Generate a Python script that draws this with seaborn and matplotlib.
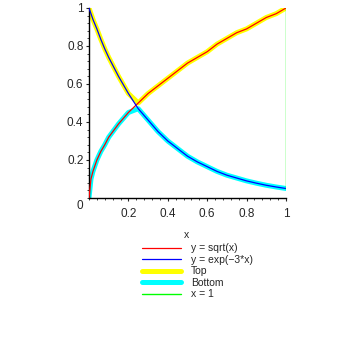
import numpy as np
import pandas as pd
import matplotlib
matplotlib.use("Agg")
import matplotlib.pyplot as plt
from matplotlib.ticker import MultipleLocator
import seaborn as sns

# values
x_vals = [0.0, 0.01, 0.02, 0.04, 0.06, 0.08, 0.10, 0.15, 0.20, 0.25, 0.30, 0.35,
          0.40, 0.45, 0.50, 0.55, 0.60, 0.65, 0.70, 0.75, 0.80, 0.85, 0.90, 0.95, 1.00]
sqrt_vals = [0.0, 0.10, 0.14, 0.20, 0.245, 0.28, 0.32, 0.39, 0.45, 0.50, 0.55, 0.59,
             0.63, 0.67, 0.71, 0.74, 0.77, 0.81, 0.84, 0.87, 0.89, 0.92, 0.95, 0.97, 1.00]
exp_vals = [1.0, 0.97, 0.94, 0.89, 0.835, 0.785, 0.74, 0.64, 0.55, 0.47, 0.41, 0.35,
            0.30, 0.26, 0.22, 0.19, 0.165, 0.14, 0.12, 0.105, 0.09, 0.078, 0.067, 0.058, 0.05]
tick_vals = [0.2, 0.4, 0.6, 0.8, 1.0]
tick_labels = ["0.2", "0.4", "0.6", "0.8", "1"]

sns.set_style("ticks")
plt.rcParams["font.family"] = ["Liberation Sans", "DejaVu Sans"]
plt.rcParams["font.size"] = 7.5

df = pd.DataFrame({"x": x_vals, "sqrt": sqrt_vals, "exp": exp_vals})
df["top"] = np.maximum(df["sqrt"], df["exp"])
df["bottom"] = np.minimum(df["sqrt"], df["exp"])

fig = plt.figure(figsize=(3.59, 3.59), dpi=100)
ax = fig.add_axes([89 / 359, 1 - 198 / 359, 197 / 359, 190 / 359])

sns.lineplot(data=df, x="x", y="top", color="#ffff00", lw=3.6, ax=ax, zorder=2, label="Top")
sns.lineplot(data=df, x="x", y="bottom", color="#00ffff", lw=3.6, ax=ax, zorder=2, label="Bottom")
sns.lineplot(data=df, x="x", y="sqrt", color="#ff0000", lw=0.9, ax=ax, zorder=3, label="y = sqrt(x)")
sns.lineplot(data=df, x="x", y="exp", color="#0000ff", lw=0.9, ax=ax, zorder=3, label="y = exp(\u22123*x)")
x_end = df["x"].iloc[-1]
ax.plot([x_end, x_end], [df["bottom"].iloc[-1], df["top"].iloc[-1]],
        color="#00ff00", lw=1.0, zorder=3, label="x = 1")

ax.set_xlim(0, 1)
ax.set_ylim(0, 1)
for side in ["top", "right"]:
    ax.spines[side].set_visible(False)
for side in ["left", "bottom"]:
    ax.spines[side].set_linewidth(1.0)
    ax.spines[side].set_color("black")

ax.xaxis.set_minor_locator(MultipleLocator(0.04))
ax.yaxis.set_minor_locator(MultipleLocator(0.04))
ax.set_xticks(tick_vals)
ax.set_xticklabels(tick_labels)
ax.set_yticks(tick_vals)
ax.set_yticklabels(tick_labels)
ax.tick_params(which="major", length=2.5, width=0.8, labelsize=8.5)
ax.tick_params(axis="x", which="major", pad=5)
ax.tick_params(axis="y", which="major", pad=1.5)
ax.tick_params(which="minor", length=1.5, width=0.6)
ax.text(-0.046, -0.042, "0", transform=ax.transAxes, ha="center", va="center", fontsize=8.5)

ax.set_xlabel("x", fontsize=7.5)
ax.set_ylabel("")
ax.xaxis.set_label_coords((187 - 89) / 197, -0.17)

ax.get_legend().remove()
handles, labels = ax.get_legend_handles_labels()
order = [2, 3, 0, 1, 4]
fig.legend([handles[i] for i in order], [labels[i] for i in order],
           loc="upper left", bbox_to_anchor=(138 / 359, 1 - 239 / 359),
           frameon=False, handlelength=3.7, handletextpad=1.0,
           labelspacing=0.15, borderaxespad=0, fontsize=7.5)

fig.savefig("out.png", dpi=100)
